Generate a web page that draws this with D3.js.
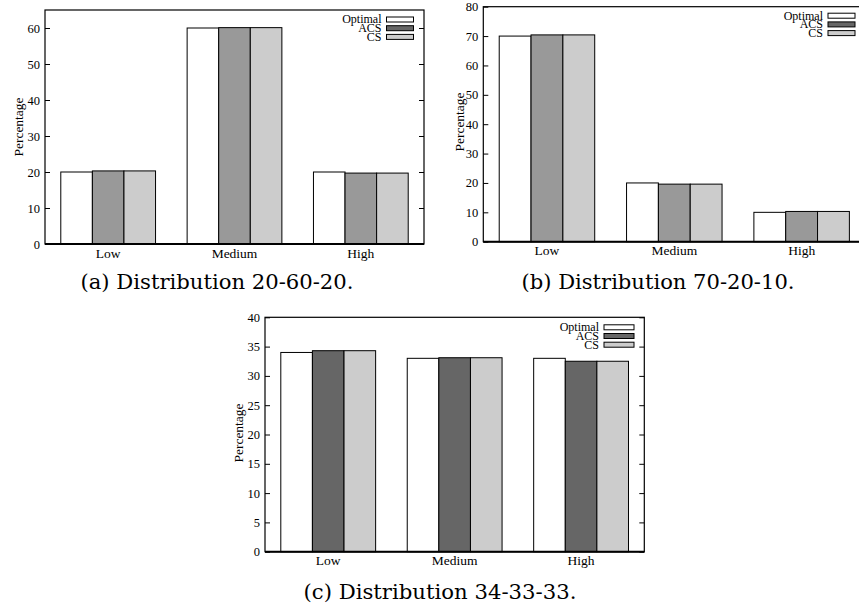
<!DOCTYPE html>
<html>
<head>
<meta charset="utf-8">
<script src="https://cdn.jsdelivr.net/npm/d3@7"></script>
<style>
  body { margin: 0; background: #fff; }
  svg { display: block; }
</style>
</head>
<body>
<svg id="chart" width="859" height="610"></svg>
<script>
// ---- data ----
const categories = ["Low", "Medium", "High"];
const seriesNames = ["Optimal", "ACS", "CS"];

const aOptimal = [20, 60, 20];
const aACS = [20.3, 60.1, 19.7];
const aCS = [20.3, 60.1, 19.7];
const aTicks = [0, 10, 20, 30, 40, 50, 60];

const bOptimal = [70, 20, 10];
const bACS = [70.4, 19.6, 10.3];
const bCS = [70.4, 19.6, 10.3];
const bTicks = [0, 10, 20, 30, 40, 50, 60, 70, 80];

const cOptimal = [34, 33, 33];
const cACS = [34.3, 33.1, 32.5];
const cCS = [34.3, 33.1, 32.5];
const cTicks = [0, 5, 10, 15, 20, 25, 30, 35, 40];

const captions = ["(a) Distribution 20-60-20.", "(b) Distribution 70-20-10.", "(c) Distribution 34-33-33."];
const yLabel = "Percentage";

// ---- drawing ----
const SERIF = '"Liberation Serif", "Times New Roman", serif';
const svg = d3.select("#chart");

function drawPanel(cfg) {
  const g = svg.append("g");
  const x0 = d3.scaleBand().domain(categories)
    .range([cfg.left, cfg.right]).paddingInner(0.25).paddingOuter(0.125);
  const x1 = d3.scaleBand().domain(seriesNames).range([0, x0.bandwidth()]);
  const y = d3.scaleLinear().domain([0, cfg.ymax]).range([cfg.bottom, cfg.top]);

  const fills = { Optimal: "#ffffff", ACS: cfg.acsColor, CS: "#cccccc" };
  const data = [];
  categories.forEach((c, i) => {
    seriesNames.forEach((s, j) => {
      data.push({ cat: c, ser: s, val: cfg.values[j][i] });
    });
  });

  // bars
  g.selectAll("rect.bar").data(data).enter().append("rect")
    .attr("class", "bar")
    .attr("x", d => x0(d.cat) + x1(d.ser))
    .attr("y", d => y(d.val))
    .attr("width", x1.bandwidth())
    .attr("height", d => y(0) - y(d.val))
    .attr("fill", d => fills[d.ser])
    .attr("stroke", "#000")
    .attr("stroke-width", 1);

  // left axis (ticks inward)
  const yAxisL = d3.axisLeft(y).tickValues(cfg.ticks).tickSize(-5).tickPadding(5).tickFormat(d3.format("d"));
  const gl = g.append("g").attr("transform", `translate(${cfg.left},0)`).call(yAxisL);
  gl.select(".domain").remove();
  gl.selectAll("line").attr("stroke", "#000");
  gl.selectAll("text").style("font-size", "12.5px").style("font-family", SERIF).style("fill", "#000");

  // right axis ticks (mirror, inward)
  const yAxisR = d3.axisRight(y).tickValues(cfg.ticks).tickSize(-5).tickFormat("");
  const gr = g.append("g").attr("transform", `translate(${cfg.right},0)`).call(yAxisR);
  gr.select(".domain").remove();
  gr.selectAll("line").attr("stroke", "#000");

  // x axis labels
  const xAxis = d3.axisBottom(x0).tickSize(0).tickPadding(4);
  const gx = g.append("g").attr("transform", `translate(0,${cfg.bottom})`).call(xAxis);
  gx.select(".domain").remove();
  gx.selectAll("text").style("font-size", "13.5px").style("font-family", SERIF).style("fill", "#000");

  // frame
  g.append("rect")
    .attr("x", cfg.left).attr("y", cfg.top)
    .attr("width", cfg.right - cfg.left).attr("height", cfg.bottom - cfg.top)
    .attr("fill", "none").attr("stroke", "#000").attr("stroke-width", 1.2);
  g.append("line")
    .attr("x1", cfg.left).attr("x2", cfg.right)
    .attr("y1", cfg.bottom).attr("y2", cfg.bottom)
    .attr("stroke", "#000").attr("stroke-width", 2);

  // y label
  g.append("text")
    .attr("transform", `translate(${cfg.ylabX},${cfg.ylabY}) rotate(-90)`)
    .attr("text-anchor", "middle").attr("dy", "0.35em")
    .style("font-size", "13.5px").style("font-family", SERIF).style("fill", "#000")
    .text(yLabel);

  // legend
  const legFills = { Optimal: "#ffffff", ACS: "#666666", CS: "#cccccc" };
  const lg = g.append("g");
  seriesNames.forEach((s, i) => {
    const cy = cfg.top + cfg.legTop + i * 8.7;
    lg.append("text")
      .attr("x", cfg.right - cfg.legRight - cfg.legW - 5)
      .attr("y", cy).attr("dy", "0.33em")
      .attr("text-anchor", "end")
      .style("font-size", "12px").style("font-family", SERIF).style("fill", "#000")
      .text(s);
    lg.append("rect")
      .attr("x", cfg.right - cfg.legRight - cfg.legW)
      .attr("y", cy - 2.5)
      .attr("width", cfg.legW).attr("height", 5)
      .attr("fill", legFills[s]).attr("stroke", "#000").attr("stroke-width", 1);
  });

  // caption
  svg.append("text")
    .attr("x", cfg.capX).attr("y", cfg.capY)
    .attr("text-anchor", "middle")
    .attr("textLength", 273).attr("lengthAdjust", "spacingAndGlyphs")
    .style("font-size", "20px").style("font-family", '"DejaVu Serif", serif').style("fill", "#000")
    .text(cfg.caption);
}

drawPanel({
  left: 45, right: 424, top: 10, bottom: 244, ymax: 65, ticks: aTicks,
  values: [aOptimal, aACS, aCS], acsColor: "#999999",
  ylabX: 18, ylabY: 127, legTop: 9.5, legRight: 10.5, legW: 27,
  caption: captions[0], capX: 217, capY: 289
});
drawPanel({
  left: 483.3, right: 865.3, top: 6.7, bottom: 241.7, ymax: 80, ticks: bTicks,
  values: [bOptimal, bACS, bCS], acsColor: "#999999",
  ylabX: 459.5, ylabY: 122, legTop: 9, legRight: 10.3, legW: 27,
  caption: captions[1], capX: 658, capY: 289
});
drawPanel({
  left: 265, right: 644.3, top: 317.3, bottom: 551.7, ymax: 40, ticks: cTicks,
  values: [cOptimal, cACS, cCS], acsColor: "#666666",
  ylabX: 238.3, ylabY: 433, legTop: 10, legRight: 10.3, legW: 30,
  caption: captions[2], capX: 440, capY: 599
});
</script>
</body>
</html>
